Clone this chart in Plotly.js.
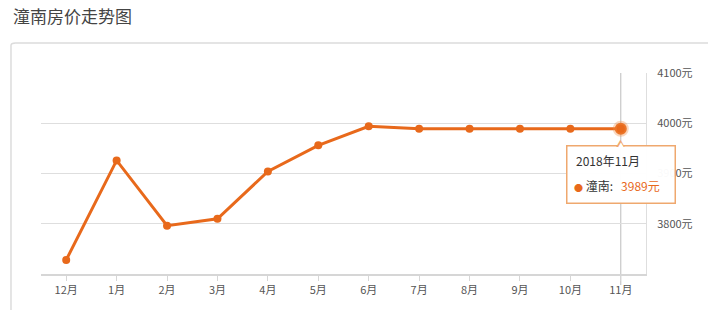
<!DOCTYPE html>
<html>
<head>
<meta charset="utf-8">
<script src="https://cdn.plot.ly/plotly-3.0.1.min.js"></script>
<style>
html,body{margin:0;padding:0;background:#fff;}
#chart{width:708px;height:310px;}
</style>
</head>
<body>
<div id="chart"></div>
<script>
const months = ['12月','1月','2月','3月','4月','5月','6月','7月','8月','9月','10月','11月'];
const prices = [3728, 3926, 3796, 3810, 3904, 3956, 3994, 3989, 3989, 3989, 3989, 3989];
const yTicks = [3800, 3900, 4000, 4100];
const yTickLabels = ['3800元', '3900元', '4000元', '4100元'];
const seriesName = '潼南';
const tooltipTitle = '2018年11月';
const chartTitle = '潼南房价走势图';

const orange = '#e8691b';
const font = '"Noto Sans CJK SC", "Noto Sans", sans-serif';
const last = months.length - 1;

const traces = [
  {
    x: months, y: prices, type: 'scatter', mode: 'lines+markers',
    line: {color: orange, width: 3},
    marker: {color: orange, size: 8},
    hoverinfo: 'skip', cliponaxis: false
  },
  {
    x: [months[last]], y: [prices[last]], type: 'scatter', mode: 'markers',
    marker: {color: orange, size: 12, line: {color: 'rgba(240,140,70,0.35)', width: 4}},
    hoverinfo: 'skip', cliponaxis: false
  }
];

const tipBase = {xref: 'x', yref: 'y', x: months[last], y: prices[last], showarrow: false};

const layout = {
  width: 708, height: 310,
  margin: {l: 41, r: 62, t: 73, b: 36},
  paper_bgcolor: '#ffffff', plot_bgcolor: '#ffffff',
  showlegend: false,
  font: {family: font, color: '#555', size: 11},
  xaxis: {
    type: 'category', range: [-0.5, months.length - 0.5],
    showgrid: false, zeroline: false,
    showline: true, linecolor: '#d6d6d6', linewidth: 2,
    ticks: 'outside', ticklen: 5, tickcolor: '#d6d6d6', tickwidth: 1,
    tickfont: {size: 11, color: '#555', family: font},
    fixedrange: true
  },
  yaxis: {
    side: 'right', range: [3700, 4100],
    tickmode: 'array', tickvals: yTicks, ticktext: yTickLabels,
    showgrid: true, gridcolor: '#dedede', gridwidth: 1,
    zeroline: false, showline: true, linecolor: '#dedede', linewidth: 1,
    ticks: '', ticklabelstandoff: 8,
    tickfont: {size: 11, color: '#555', family: font},
    fixedrange: true
  },
  shapes: [
    // card border
    {type: 'path', xref: 'paper', yref: 'paper',
     path: 'M -0.0496 -0.2 L -0.0496 1.137 Q -0.0496 1.149 -0.042 1.149 L 1.2 1.149',
     line: {color: '#dcdcdc', width: 1.5}, layer: 'below'},
    // crosshair
    {type: 'line', xref: 'x', yref: 'paper', x0: months[last], x1: months[last], y0: -0.055, y1: 1,
     line: {color: '#bdbdbd', width: 1}, layer: 'below'}
  ],
  annotations: [
    {xref: 'paper', yref: 'paper', x: -0.05, y: 1.284, xanchor: 'left', yanchor: 'middle',
     text: chartTitle, showarrow: false, font: {size: 17, color: '#444', family: font}},
    // tooltip box
    Object.assign({}, tipBase, {xanchor: 'center', yanchor: 'top', yshift: -16, text: ' ',
      width: 105, height: 54, bgcolor: 'rgba(255,255,255,0.97)', bordercolor: '#efa86e',
      borderwidth: 1.5, borderpad: 1, font: {size: 10}}),
    // tooltip notch
    Object.assign({}, tipBase, {xanchor: 'center', yanchor: 'middle', yshift: -15, text: '▲',
      font: {size: 9, color: '#efa86e', family: font}}),
    Object.assign({}, tipBase, {xanchor: 'center', yanchor: 'middle', yshift: -17, text: '▲',
      font: {size: 8, color: '#ffffff', family: font}}),
    // tooltip lines
    Object.assign({}, tipBase, {xanchor: 'left', yanchor: 'middle', xshift: -47, yshift: -32,
      text: tooltipTitle, font: {size: 12, color: '#333', family: font}}),
    Object.assign({}, tipBase, {xanchor: 'left', yanchor: 'middle', xshift: -49, yshift: -57,
      text: '<span style="color:' + orange + ';font-size:9px">●</span> ' + seriesName + ':   ' +
            '<span style="color:' + orange + '">' + prices[last] + '元</span>',
      font: {size: 12, color: '#333', family: font}})
  ]
};

Plotly.newPlot('chart', traces, layout, {displayModeBar: false, staticPlot: true});
</script>
</body>
</html>
